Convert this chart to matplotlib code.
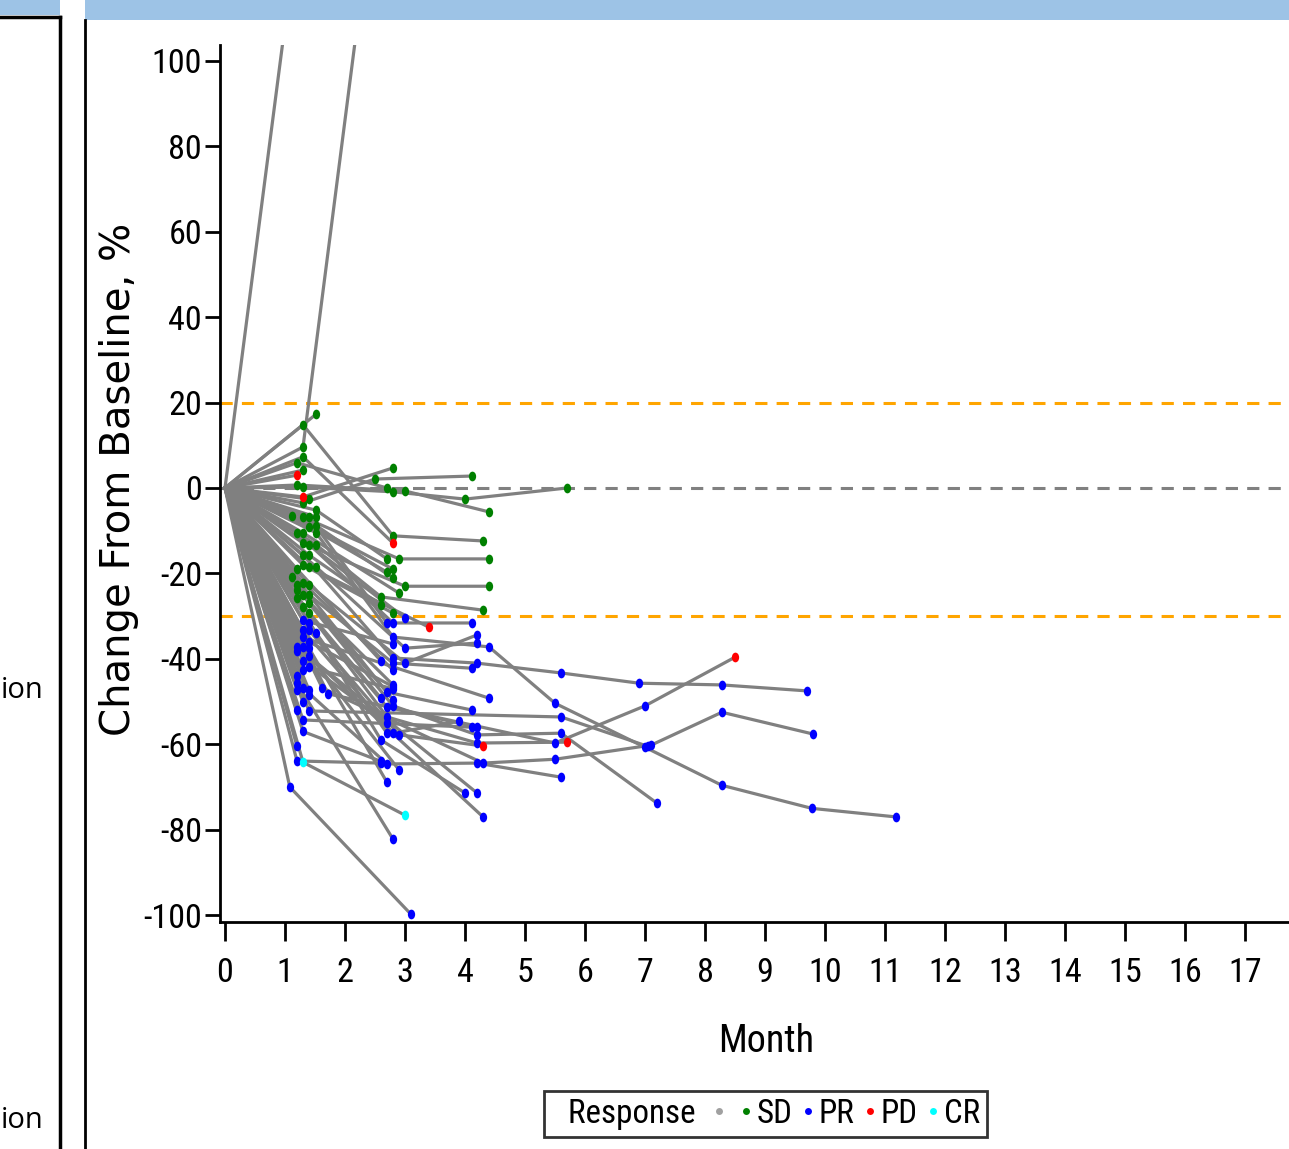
import os
import matplotlib
matplotlib.use('Agg')
import matplotlib.pyplot as plt
from matplotlib import font_manager
from matplotlib.textpath import TextPath
from matplotlib.markers import MarkerStyle
from matplotlib.transforms import Affine2D
from matplotlib.lines import Line2D
from matplotlib.patches import Rectangle

# ---------------- data (long format, one row per post-baseline visit) ----------------
subject = [
    0,
    1,
    2, 2, 2,
    3, 3,
    4, 4,
    5, 5,
    6,
    7,
    8, 8, 8,
    9, 9, 9, 9,
    10, 10,
    11, 11, 11,
    12,
    13, 13,
    14, 14,
    15, 15, 15,
    16, 16,
    17,
    18, 18,
    19, 19,
    20, 20, 20,
    21, 21,
    22, 22, 22, 22, 22, 22, 22, 22,
    23, 23, 23,
    24, 24,
    25, 25, 25,
    26, 26, 26, 26, 26, 26, 26,
    27, 27,
    28, 28,
    29, 29,
    30, 30, 30,
    31, 31,
    32,
    33, 33, 33,
    34, 34,
    35, 35, 35,
    36, 36,
    37, 37, 37,
    38, 38,
    39, 39,
    40, 40, 40,
    41, 41, 41, 41, 41,
    42, 42, 42, 42,
    43, 43, 43,
    44, 44, 44,
    45, 45,
    46, 46, 46,
    47, 47,
    48, 48,
    49, 49,
    50, 50,
    51, 51,
    52,
    53,
    54, 54,
    55,
    56, 56, 56, 56,
    57,
    58,
    59, 59, 59, 59, 59, 59,
    60, 60, 60, 60,
    61,
    62, 62, 62,
    63, 63,
    64, 64,
    65, 65,
    66, 66,
    67, 67,
    68, 68,
    69,
    70, 70,
    71, 71,
    72,
    73, 73,
    74,
]
month = [
    1.2,
    1.52,
    1.3, 2.8, 4.3,
    1.3, 2.2,
    1.3, 2.8,
    1.2, 2.7,
    1.3,
    1.2,
    1.2, 3.0, 4.4,
    1.3, 2.8, 4.0, 5.7,
    1.3, 2.8,
    1.3, 2.5, 4.12,
    1.4,
    1.52, 2.7,
    1.12, 2.8,
    1.3, 2.9, 4.4,
    1.4, 2.7,
    1.52,
    1.4, 2.7,
    1.52, 2.8,
    1.2, 2.8, 4.12,
    1.3, 2.9,
    1.52, 2.8, 4.4, 5.5, 7.0, 8.28, 9.78, 11.18,
    1.3, 3.0, 4.4,
    1.4, 3.0,
    1.52, 2.6, 4.3,
    1.3, 2.8, 4.2, 5.6, 6.9, 8.28, 9.7,
    1.4, 2.6,
    1.3, 2.8,
    1.4, 3.4,
    1.52, 3.0, 4.2,
    1.2, 2.6,
    1.12,
    1.2, 2.8, 4.12,
    1.3, 2.8,
    1.4, 3.0, 4.2,
    1.2, 2.8,
    1.3, 2.7, 4.12,
    1.4, 2.8,
    1.2, 2.6,
    1.3, 2.7, 4.2,
    1.4, 2.8, 4.2, 5.6, 7.2,
    1.4, 2.7, 4.2, 5.7,
    1.4, 2.7, 4.3,
    1.3, 2.8, 3.9,
    1.4, 2.9,
    1.52, 2.6, 4.0,
    1.3, 4.4,
    1.2, 4.2,
    1.3, 2.9,
    1.4, 2.7,
    1.4, 4.3,
    1.2,
    1.3,
    1.2, 2.8,
    1.2,
    1.3, 2.7, 4.2, 5.6,
    1.4,
    1.4,
    1.62, 4.3, 5.5, 7.1, 8.28, 9.8,
    1.72, 5.5, 7.0, 8.5,
    1.3,
    1.4, 5.6, 7.05,
    1.3, 4.12,
    1.2, 2.6,
    1.3, 3.0,
    1.08, 3.1,
    1.4, 2.8,
    1.3, 2.7,
    1.2,
    1.4, 2.8,
    1.3, 2.8,
    1.2,
    1.3, 2.6,
    1.2,
]
change = [
    130.0,
    17.3,
    14.8, -11.2, -12.4,
    9.6, 108.0,
    7.3, -12.9,
    5.9, 0.0,
    4.2,
    3.0,
    0.7, -0.7, -5.6,
    0.2, -0.9, -2.6, 0.0,
    -2.1, 4.7,
    -3.5, 2.1, 2.8,
    -2.6,
    -5.2, -16.6,
    -6.6, -19.0,
    -6.8, -16.6, -16.6,
    -6.8, -31.6,
    -6.8,
    -9.1, -19.7,
    -8.8, -21.1,
    -10.5, -31.6, -31.6,
    -10.5, -24.6,
    -10.5, -34.9, -37.2, -50.4, -60.7, -69.6, -75.0, -77.0,
    -12.9, -23.0, -23.0,
    -13.3, -30.4,
    -13.3, -25.5, -28.6,
    -15.7, -39.8, -41.0, -43.3, -45.7, -46.1, -47.5,
    -15.7, -27.4,
    -18.0, -29.3,
    -18.5, -32.6,
    -18.5, -37.5, -36.3,
    -19.0, -40.5,
    -20.8,
    -22.7, -41.0, -42.2,
    -22.2, -42.6,
    -22.7, -41.0, -34.4,
    -23.9, -46.1,
    -25.0, -47.8, -52.0,
    -25.0, -49.6,
    -25.8, -49.2,
    -27.9, -51.3, -56.0,
    -27.0, -51.0, -57.8, -57.4, -73.8,
    -29.3, -53.6, -59.7, -59.5,
    -31.6, -57.4, -60.4,
    -33.3, -57.4, -54.6,
    -33.3, -57.8,
    -34.0, -59.0, -71.4,
    -35.0, -49.2,
    -37.2, -71.4,
    -37.2, -66.0,
    -37.5, -68.9,
    -39.3, -77.0,
    -38.2,
    -42.6,
    -45.7, -82.2,
    -47.3,
    -46.8, -64.6, -64.4, -67.7,
    -47.3,
    -48.5,
    -46.8, -64.4, -63.5, -60.2, -52.5, -57.6,
    -48.2, -59.7, -51.0, -39.6,
    -50.1,
    -52.2, -53.6, -60.5,
    -54.3, -56.0,
    -63.9, -64.4,
    -64.2, -76.6,
    -70.0, -99.8,
    -36.0, -46.5,
    -40.5, -55.0,
    -44.0,
    -42.0, -47.0,
    -31.0, -36.5,
    -52.0,
    -57.0, -64.0,
    -60.5,
]
response = [
    '',
    'SD',
    'SD', 'SD', 'SD',
    'SD', '',
    'SD', 'PD',
    'SD', 'SD',
    'SD',
    'PD',
    'SD', 'SD', 'SD',
    'SD', 'SD', 'SD', 'SD',
    'PD', 'SD',
    'SD', 'SD', 'SD',
    'SD',
    'SD', 'SD',
    'SD', 'SD',
    'SD', 'SD', 'SD',
    'SD', 'PR',
    'SD',
    'SD', 'SD',
    'SD', 'SD',
    'SD', 'PR', 'PR',
    'SD', 'SD',
    'SD', 'PR', 'PR', 'PR', 'PR', 'PR', 'PR', 'PR',
    'SD', 'SD', 'SD',
    'SD', 'PR',
    'SD', 'SD', 'SD',
    'SD', 'PR', 'PR', 'PR', 'PR', 'PR', 'PR',
    'SD', 'SD',
    'SD', 'SD',
    'SD', 'PD',
    'SD', 'PR', 'PR',
    'SD', 'PR',
    'SD',
    'SD', 'PR', 'PR',
    'SD', 'PR',
    'SD', 'PR', 'PR',
    'SD', 'PR',
    'SD', 'PR', 'PR',
    'SD', 'PR',
    'SD', 'PR',
    'SD', 'PR', 'PR',
    'SD', 'PR', 'PR', 'PR', 'PR',
    'SD', 'PR', 'PR', 'PD',
    'PR', 'PR', 'PD',
    'PR', 'PR', 'PR',
    'PR', 'PR',
    'PR', 'PR', 'PR',
    'PR', 'PR',
    'PR', 'PR',
    'PR', 'PR',
    'PR', 'PR',
    'PR', 'PR',
    'PR',
    'PR',
    'PR', 'PR',
    'PR',
    'PR', 'PR', 'PR', 'PR',
    'PR',
    'PR',
    'PR', 'PR', 'PR', 'PR', 'PR', 'PR',
    'PR', 'PR', 'PR', 'PD',
    'PR',
    'PR', 'PR', 'PR',
    'PR', 'PR',
    'PR', 'PR',
    'CR', 'CR',
    'PR', 'PR',
    'PR', 'PR',
    'PR', 'PR',
    'PR',
    'PR', 'PR',
    'PR', 'PR',
    'PR',
    'PR', 'PR',
    'PR',
]

legend_codes = ['', 'SD', 'PR', 'PD', 'CR']
resp_colors = {'': '#A0A0A0', 'SD': '#008000', 'PR': '#0000FF',
               'PD': '#FF0000', 'CR': '#00FFFF'}
x_ticks = list(range(0, 18))
y_ticks = list(range(-100, 101, 20))
ref_lines = [20, -30]

# ---------------- narrow font choice ----------------
preferred = ['liberationsansnarrow-regular.ttf', 'robotocondensed-regular.ttf',
             'notosans-extracondensed.ttf', 'notosans-condensed.ttf',
             'notosans-semicondensed.ttf', 'dejavusanscondensed.ttf']
files = {os.path.basename(f.fname).lower(): f.fname for f in font_manager.fontManager.ttflist}
narrow_file = None
for p in preferred:
    if p in files:
        narrow_file = files[p]
        break
NARROW = dict(fname=narrow_file) if narrow_file else dict(family=['Liberation Sans', 'DejaVu Sans'])


def nprop(size):
    return font_manager.FontProperties(size=size, **NARROW)


def fit_size(text, target_px, max_size):
    w = TextPath((0, 0), text, prop=nprop(10)).get_extents().width * 100 / 72
    return min(max_size, 10 * target_px / w)


tick_size = fit_size('100', 41, 26) * 1.12
month_size = fit_size('Month', 77, 30) * 1.18
leg_size = fit_size('Response', 121, 28) * 1.02

# ---------------- figure ----------------
W, H = 1289, 1149
fig = plt.figure(figsize=(W / 100, H / 100), dpi=100)

# slide decorations
fig.patches.append(Rectangle((0, 1 - 15 / H), 60 / W, 15 / H, transform=fig.transFigure,
                             facecolor='#9DC3E6', edgecolor='none', zorder=0))
fig.patches.append(Rectangle((85 / W, 1 - 20 / H), 1 - 85 / W, 20 / H, transform=fig.transFigure,
                             facecolor='#9DC3E6', edgecolor='none', zorder=0))
fig.add_artist(Line2D([0, 60 / W], [1 - 17 / H, 1 - 17 / H], transform=fig.transFigure,
                      color='black', lw=2.5))
fig.add_artist(Line2D([60 / W, 60 / W], [0, 1 - 17 / H], transform=fig.transFigure,
                      color='black', lw=2.5))
fig.add_artist(Line2D([85 / W, 85 / W], [0, 1 - 20 / H], transform=fig.transFigure,
                      color='black', lw=2))
for ty in (690, 1120):
    fig.text(1 / W, 1 - ty / H, 'ion', ha='left', va='center', fontsize=21,
             family=['Open Sans', 'DejaVu Sans'])

ax = fig.add_axes([220 / W, 1 - 922 / H, 1 - 220 / W, (922 - 45) / H])
ax.set_xlim(-0.083, 17.73)
ax.set_ylim(-101.6, 103.7)

for v in ref_lines:
    ax.axhline(v, color='#FFA500', lw=2.2, ls=(0, (4, 3)), zorder=1)
ax.axhline(0, color='#808080', lw=2.2, ls=(0, (4, 3)), zorder=1)

# spider lines
ellipse = MarkerStyle('o', transform=Affine2D().scale(0.75, 1.0))
subjects = []
for s in subject:
    if s not in subjects:
        subjects.append(s)
for s in subjects:
    idx = [i for i, v in enumerate(subject) if v == s]
    xs = [0.0] + [month[i] for i in idx]
    ys = [0.0] + [change[i] for i in idx]
    ax.plot(xs, ys, color='#808080', lw=2.3, zorder=2, solid_capstyle='round')
for code in legend_codes:
    idx = [i for i, r in enumerate(response) if r == code]
    ax.plot([month[i] for i in idx], [change[i] for i in idx], ls='none',
            marker=ellipse, ms=7, color=resp_colors[code], mec='none', zorder=3)

# axes styling
for sp in ('top', 'right'):
    ax.spines[sp].set_visible(False)
for sp in ('left', 'bottom'):
    ax.spines[sp].set_linewidth(2)
ax.set_xticks(x_ticks)
ax.set_xticklabels([str(v) for v in x_ticks], fontproperties=nprop(tick_size))
ax.set_yticks(y_ticks)
ax.set_yticklabels([str(v) for v in y_ticks], fontproperties=nprop(tick_size))
ax.tick_params(axis='x', direction='out', length=14, width=2, pad=11)
ax.tick_params(axis='y', direction='out', length=11, width=2, pad=2)

ax.set_xlabel('Month', fontproperties=nprop(month_size))
ax.xaxis.set_label_coords((766 - 220) / (W - 220), -(1023 - 922) / (922 - 45))
ax.set_ylabel('Change From Baseline, %', fontsize=29, family=['DejaVu Sans'])
ax.yaxis.set_label_coords(-(220 - 139) / (W - 220), 0.505)

# legend
handles = [Line2D([], [], ls='none')]
labels = ['Response ']
for code in legend_codes:
    handles.append(Line2D([], [], ls='none', marker='o', ms=5, color=resp_colors[code], mec='none'))
    labels.append(code)
leg = fig.legend(handles, labels, loc='center', bbox_to_anchor=(765.5 / W, 1 - 1114 / H),
                 ncol=len(handles), frameon=True, fancybox=False, shadow=False,
                 handlelength=0.4, handletextpad=0.12, columnspacing=0.28,
                 borderpad=0.2, borderaxespad=0, prop=nprop(leg_size))
leg.get_frame().set_edgecolor('black')
leg.get_frame().set_linewidth(2)

fig.savefig('out.png', dpi=100)
